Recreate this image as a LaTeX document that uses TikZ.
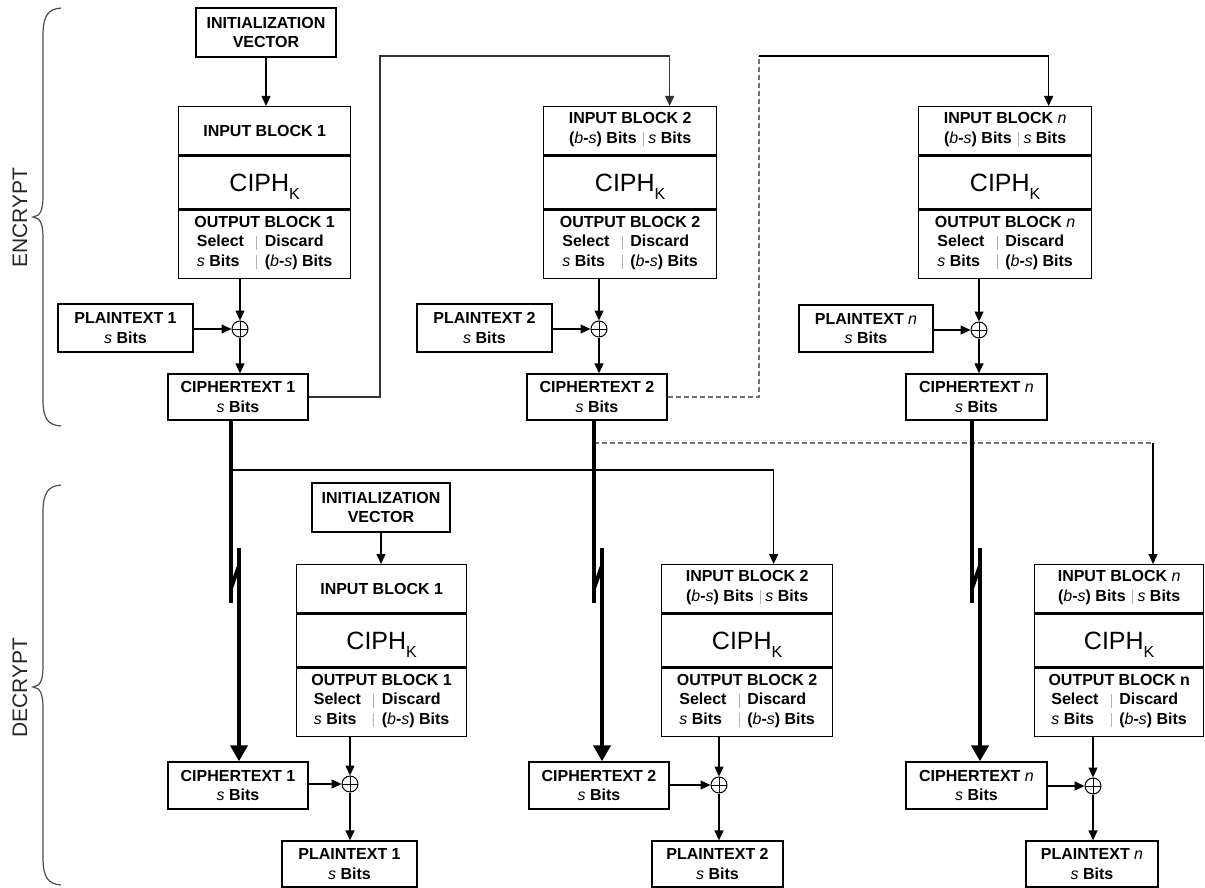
\documentclass[tikz,border=0pt]{standalone}
\usepackage{fontspec}
\setmainfont{Liberation Sans}
\usetikzlibrary{arrows.meta,calc}

% text settings
\newcommand\lblfont{\fontsize{16}{19.5}\selectfont\bfseries}
\newcommand\ciphfont{\fontsize{25}{25}\selectfont\mdseries}
\newcommand\vv[1]{{\mdseries\itshape #1}}
\newcommand\sbits{\vv{s} Bits}
\newcommand\bsbits{(\vv{b}-\vv{s}) Bits}
\newcommand\lsep{{\color{black!30}\vrule width 0.8pt height 11pt depth 3pt}}
\newcommand\inbits{\begin{tabular}[t]{@{}r@{\hspace{6pt}\lsep\hspace{5pt}}l@{}}\bsbits & \sbits\end{tabular}}
\newcommand\outbits{\begin{tabular}[t]{@{}l@{\hspace{12pt}\lsep\hspace{8pt}}l@{}}Select & Discard\\ \sbits & \bsbits\end{tabular}}

% one cipher block: name, left, top, width, input text, output title
\newcommand\cblock[6]{%
  \node[blockrow, minimum width=#4pt, minimum height=48pt, anchor=north west] (#1in) at (#2,#3) {#5};
  \node[blockrow, minimum width=#4pt, minimum height=53pt, anchor=north, font=\ciphfont,
        text height=18pt, text depth=0pt] (#1ciph) at (#1in.south)
        {CIPH\raisebox{-8pt}{\fontsize{16}{16}\selectfont K}};
  \node[blockrow, minimum width=#4pt, minimum height=68pt, anchor=north] (#1out) at (#1ciph.south) {#6\\\outbits};
}

\tikzset{
  box/.style={draw, line width=1.3pt, inner sep=0pt, align=center, font=\lblfont},
  blockrow/.style={box},
  xor/.style={draw, circle, line width=1pt, minimum size=16pt, inner sep=0pt,
    path picture={\draw[line width=0.9pt]
      (path picture bounding box.north) -- (path picture bounding box.south)
      (path picture bounding box.west) -- (path picture bounding box.east);}},
  link/.style={line width=1.3pt},
  arr/.style={link, -{Triangle[length=10pt,width=9pt]}},
  thickline/.style={line width=4pt},
  thickarr/.style={line width=4pt, -{Triangle[length=16pt,width=17pt]}},
  dashlink/.style={line width=1.2pt, draw=black!55, dash pattern=on 5pt off 3pt},
  brace/.style={line width=1.2pt, draw=black!70},
  side/.style={font=\fontsize{21}{21}\selectfont, text=black!85, rotate=90},
}

\begin{document}
\begin{tikzpicture}[x=1pt, y=-1pt]
\useasboundingbox (0,0) rectangle (1205,888);

% ---------------- encrypt ----------------
\node[box, minimum width=140pt, minimum height=49pt] (iv1) at (266,32.5) {INITIALIZATION\\VECTOR};
\cblock{e1}{178}{106}{172}{INPUT BLOCK 1}{OUTPUT BLOCK 1}
\cblock{e2}{543}{106}{173}{INPUT BLOCK 2\\\inbits}{OUTPUT BLOCK 2}
\cblock{en}{918}{106}{173}{INPUT BLOCK \vv{n}\\\inbits}{OUTPUT BLOCK \vv{n}}

\node[xor] (ex1) at (240,329) {};
\node[xor] (ex2) at (599,329) {};
\node[xor] (exn) at (979,330) {};

\node[box, minimum width=135pt, minimum height=48pt] (pt1) at (125.5,328) {PLAINTEXT 1\\\sbits};
\node[box, minimum width=135pt, minimum height=48pt] (pt2) at (484.5,328) {PLAINTEXT 2\\\sbits};
\node[box, minimum width=134pt, minimum height=47pt] (ptn) at (866,328.5) {PLAINTEXT \vv{n}\\\sbits};

\node[box, minimum width=140pt, minimum height=46pt] (ct1) at (238,397) {CIPHERTEXT 1\\\sbits};
\node[box, minimum width=140pt, minimum height=46pt] (ct2) at (597,397) {CIPHERTEXT 2\\\sbits};
\node[box, minimum width=141pt, minimum height=46pt] (ctn) at (976.5,397) {CIPHERTEXT \vv{n}\\\sbits};

\draw[arr] (iv1.south) -- (iv1.south |- e1in.north);
\foreach \k in {1,2,n}{
  \draw[arr] (e\k out.south -| ex\k) -- (ex\k);
  \draw[arr] (pt\k.east |- ex\k) -- (ex\k);
  \draw[arr] (ex\k) -- (ex\k |- ct\k.north);
}

% feedback of each ciphertext into the next input block
\coordinate (k1) at (380,56);
\coordinate (k2) at (759,56);
\draw[arr, draw=black!80] (ct1.east) -| (k1) -| ([xshift=39.5pt]e2in.north);
\draw[dashlink] (ct2.east) -| (k2);
\draw[arr] (k2) -| ([xshift=43.5pt]enin.north);

% ---------------- decrypt ----------------
\node[box, minimum width=138pt, minimum height=49pt] (div) at (381,507.5) {INITIALIZATION\\VECTOR};
\cblock{d1}{296}{564}{170}{INPUT BLOCK 1}{OUTPUT BLOCK 1}
\cblock{d2}{661}{564}{171}{INPUT BLOCK 2\\\inbits}{OUTPUT BLOCK 2}
\cblock{dn}{1034}{564}{169}{INPUT BLOCK \vv{n}\\\inbits}{OUTPUT BLOCK n}

\node[xor] (dx1) at (350,784) {};
\node[xor] (dx2) at (719,785) {};
\node[xor] (dxn) at (1093,786) {};

\node[box, minimum width=140pt, minimum height=47pt] (dct1) at (238,785.5) {CIPHERTEXT 1\\\sbits};
\node[box, minimum width=140pt, minimum height=47pt] (dct2) at (599,785.5) {CIPHERTEXT 2\\\sbits};
\node[box, minimum width=141pt, minimum height=47pt] (dctn) at (976.5,785.5) {CIPHERTEXT \vv{n}\\\sbits};

\node[box, minimum width=135pt, minimum height=46pt] (dpt1) at (349.5,864) {PLAINTEXT 1\\\sbits};
\node[box, minimum width=131pt, minimum height=46pt] (dpt2) at (717.5,864) {PLAINTEXT 2\\\sbits};
\node[box, minimum width=132pt, minimum height=46pt] (dptn) at (1092,864) {PLAINTEXT \vv{n}\\\sbits};

\draw[arr] (div.south) -- (div.south |- d1in.north);
\foreach \k in {1,2,n}{
  \draw[arr] (d\k out.south -| dx\k) -- (dx\k);
  \draw[arr] (dct\k.east |- dx\k) -- (dx\k);
  \draw[arr] (dx\k) -- (dx\k |- dpt\k.north);
}

% ciphertext taps feeding the decrypt input blocks
\coordinate (j1) at (231,470);
\coordinate (j2) at (594,443);
\coordinate (k3) at (1153,443);
\draw[arr] (j1) -| ([xshift=26.5pt]d2in.north);
\draw[dashlink] (j2) -- (k3);
\draw[arr] (k3) -- (k3 |- dnin.north);

% heavy ciphertext transfers with break marks
\foreach \u/\c in {231/1, 594/2, 972/n}{
  \coordinate (up\c) at (\u,603);
  \coordinate (lo\c) at (\u+8,548);
  \draw[thickline] (ct\c.south -| up\c) -- (up\c);
  \draw[thickline] (\u,588) -- (\u+8,566);
  \draw[thickarr] (lo\c) -- (lo\c |- dct\c.north);
}

% ---------------- side braces ----------------
\draw[brace] (61,8) .. controls (48,9) and (43,16) .. (43,35) -- (43,196)
  .. controls (43,211) and (40,216) .. (33,217)
  .. controls (40,218) and (43,223) .. (43,238) -- (43,400)
  .. controls (43,419) and (48,425) .. (61,426);
\draw[brace] (61,485) .. controls (48,486) and (43,493) .. (43,512) -- (43,666)
  .. controls (43,681) and (40,686) .. (33,687)
  .. controls (40,688) and (43,693) .. (43,708) -- (43,858)
  .. controls (43,877) and (48,884) .. (61,885);
\node[side] (enc) at (20,218) {ENCRYPT};
\node[side] (dec) at (20,688) {DECRYPT};
\end{tikzpicture}
\end{document}
